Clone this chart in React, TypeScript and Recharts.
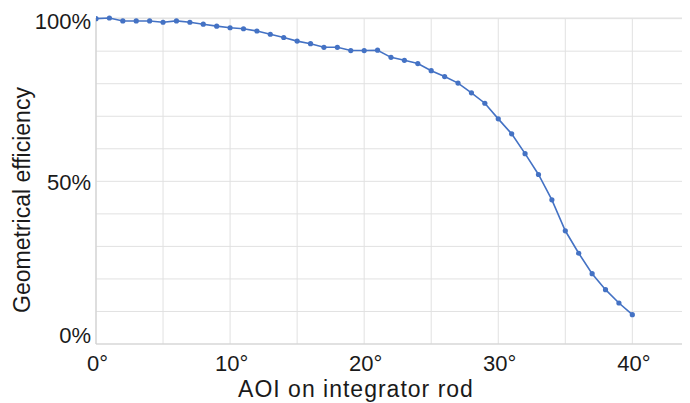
import React from 'react';
import { LineChart, Line, XAxis, YAxis, CartesianGrid } from 'recharts';

const angles: number[] = [
  0, 1, 2, 3, 4, 5, 6, 7, 8, 9, 10, 11, 12, 13, 14, 15, 16, 17, 18, 19, 20,
  21, 22, 23, 24, 25, 26, 27, 28, 29, 30, 31, 32, 33, 34, 35, 36, 37, 38, 39, 40,
];
const efficiency: number[] = [
  100, 100.2, 99.3, 99.3, 99.3, 98.9, 99.3, 98.9, 98.3, 97.7, 97.2, 96.9, 96.2, 95.2, 94.2, 93.1, 92.3, 91.2, 91.2, 90.2, 90.2,
  90.3, 88.1, 87.2, 86.2, 84.0, 82.2, 80.2, 77.2, 74.0, 69.2, 64.6, 58.5, 52.1, 44.3, 34.8, 27.9, 21.6, 16.7, 12.6, 9.0,
];
const xTicks: number[] = [0, 5, 10, 15, 20, 25, 30, 35, 40];
const xLabelled: number[] = [0, 10, 20, 30, 40];
const yTicks: number[] = [0, 10, 20, 30, 40, 50, 60, 70, 80, 90, 100];
const yLabelled: number[] = [0, 50, 100];

const data = angles.map((a, i) => ({ aoi: a, eff: efficiency[i] }));

const FONT = '"Liberation Sans", Arial, sans-serif';
const TEXT = '#1a1a1a';
const BLUE = '#4472c4';

const XTick = (props: any) => {
  const { x, y, payload } = props;
  if (!xLabelled.includes(payload.value)) return null;
  return (
    <text x={x + 1.5} y={y + 27.4} textAnchor="middle" fontFamily={FONT} fontSize={22} fill={TEXT}>
      {`${payload.value}°`}
    </text>
  );
};

const YTick = (props: any) => {
  const { x, y, payload } = props;
  if (!yLabelled.includes(payload.value)) return null;
  const off = payload.value === 100 ? 2.3 : payload.value === 0 ? -9 : 0.5;
  return (
    <text x={x - 5} y={y + 7.9 + off} textAnchor="end" fontFamily={FONT} fontSize={22} fill={TEXT}>
      {`${payload.value}%`}
    </text>
  );
};

export default function App() {
  return (
    <LineChart width={682} height={395} data={data} margin={{ top: 10, right: 0, bottom: 0, left: 0 }}>
      <CartesianGrid stroke="#e1e1e1" strokeWidth={1} />
      <XAxis
        dataKey="aoi"
        type="number"
        domain={[0, 44.3]}
        ticks={xTicks}
        allowDataOverflow
        height={59}
        tickSize={0}
        tickMargin={0}
        tick={<XTick />}
        axisLine={{ stroke: '#d2d2d2', strokeWidth: 1.2 }}
        tickLine={false}
        label={{
          content: () => (
            <text
              x={348}
              y={389}
              textAnchor="middle"
              fontFamily={FONT}
              fontSize={23}
              letterSpacing={1}
              fill={TEXT}
            >
              AOI on integrator rod
            </text>
          ),
        }}
      />
      <YAxis
        type="number"
        domain={[0, 100]}
        ticks={yTicks}
        width={88}
        tickSize={0}
        tickMargin={0}
        tick={<YTick />}
        axisLine={{ stroke: '#d2d2d2', strokeWidth: 1.2 }}
        tickLine={false}
        label={{
          content: () => (
            <text
              x={22}
              y={192}
              transform="rotate(-90 22 192)"
              textAnchor="middle"
              fontFamily={FONT}
              fontSize={23}
              fill={TEXT}
            >
              Geometrical efficiency
            </text>
          ),
        }}
      />
      <Line
        dataKey="eff"
        type="linear"
        stroke={BLUE}
        strokeWidth={1.6}
        dot={{ r: 2.6, fill: BLUE, stroke: BLUE, strokeWidth: 0 }}
        isAnimationActive={false}
      />
    </LineChart>
  );
}
